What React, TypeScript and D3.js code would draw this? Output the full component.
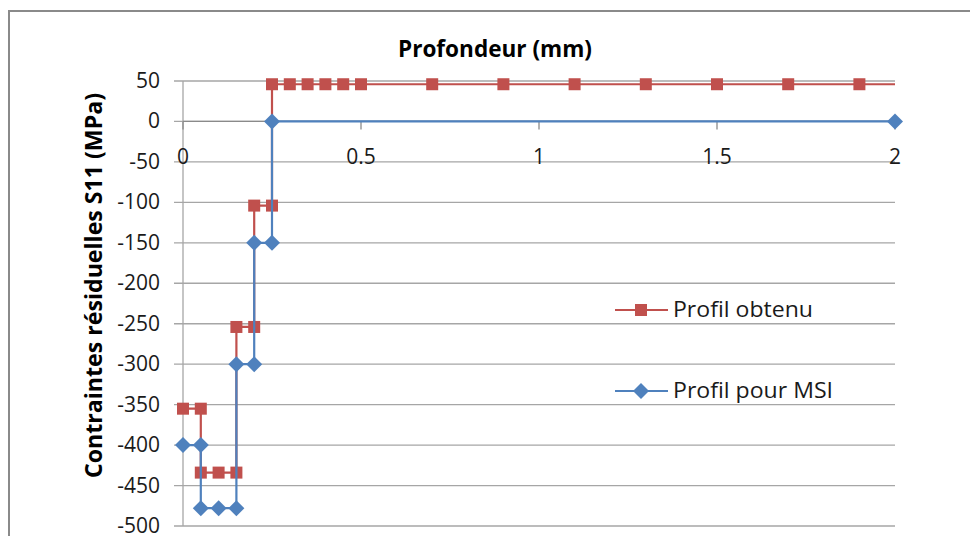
import * as d3 from "d3";

// Profil obtenu (red squares)
const redX = [0, 0.05, 0.05, 0.1, 0.15, 0.15, 0.2, 0.2, 0.25, 0.25, 0.3, 0.35, 0.4, 0.45, 0.5, 0.7, 0.9, 1.1, 1.3, 1.5, 1.7, 1.9, 2];
const redY = [-355, -355, -434, -434, -434, -254, -254, -104, -104, 46, 46, 46, 46, 46, 46, 46, 46, 46, 46, 46, 46, 46, 46];
// Profil pour MSI (blue diamonds)
const blueX = [0, 0.05, 0.05, 0.1, 0.15, 0.15, 0.2, 0.2, 0.25, 0.25, 2];
const blueY = [-400, -400, -478, -478, -478, -300, -300, -150, -150, 0, 0];

const yTicks = [50, 0, -50, -100, -150, -200, -250, -300, -350, -400, -450, -500];
const xTicks = [0, 0.5, 1, 1.5, 2];

const RED = "#C0504D";
const BLUE = "#4F81BD";
const FONT = "'Open Sans', Lato, sans-serif";

export default function App() {
  const x = d3.scaleLinear().domain([0, 2]).range([183, 895]);
  const y = d3.scaleLinear().domain([-500, 50]).range([526, 81]);

  const red = redX.map((d, i) => [d, redY[i]] as [number, number]);
  const blue = blueX.map((d, i) => [d, blueY[i]] as [number, number]);
  const line = d3
    .line<[number, number]>()
    .x((d) => x(d[0]))
    .y((d) => y(d[1]));

  return (
    <svg
      width={970}
      height={536}
      style={{ position: "absolute", left: 0, top: 0 }}
      fontFamily={FONT}
    >
      <rect x={0} y={0} width={970} height={536} fill="white" />
      <rect x={9} y={11} width={1000} height={600} fill="none" stroke="#8a8a8a" strokeWidth={2} />

      {/* gridlines + y ticks */}
      {yTicks.map((t) => (
        <line key={t} x1={174} x2={x(2)} y1={y(t)} y2={y(t)} stroke="#a6a6a6" strokeWidth={1.3} />
      ))}
      {yTicks.map((t) => (
        <text key={"l" + t} x={160} y={y(t) + 7} fontSize={21} textAnchor="end" fill="#1a1a1a">
          {t}
        </text>
      ))}
      <line x1={x(0)} x2={x(0)} y1={y(50)} y2={y(-500)} stroke="#a6a6a6" strokeWidth={1.3} />

      {/* x axis at y = 0 */}
      <line x1={x(0)} x2={x(2)} y1={y(0)} y2={y(0)} stroke="#8a8a8a" strokeWidth={1.3} />
      {xTicks.map((t) => (
        <g key={t}>
          <line x1={x(t)} x2={x(t)} y1={y(0)} y2={y(0) + 8} stroke="#8a8a8a" strokeWidth={1.3} />
          <text x={x(t)} y={164} fontSize={21} textAnchor="middle" fill="#1a1a1a">
            {t}
          </text>
        </g>
      ))}

      <text
        x={398}
        y={57}
        fontSize={23}
        fontWeight="bold"
        fill="#000"
        textLength={194}
        lengthAdjust="spacingAndGlyphs"
      >
        Profondeur (mm)
      </text>
      <text
        transform="translate(102,478) rotate(-90)"
        fontSize={24}
        fontWeight="bold"
        fill="#000"
        textLength={385}
        lengthAdjust="spacingAndGlyphs"
      >
        Contraintes résiduelles S11 (MPa)
      </text>

      {/* red series */}
      <path d={line(red) ?? ""} fill="none" stroke={RED} strokeWidth={2.2} />
      {red.map((d, i) =>
        i === red.length - 1 ? null : (
          <rect key={i} x={x(d[0]) - 6} y={y(d[1]) - 6} width={12} height={12} fill={RED} />
        )
      )}

      {/* blue series */}
      <path d={line(blue) ?? ""} fill="none" stroke={BLUE} strokeWidth={2.2} />
      {blue.map((d, i) => (
        <path
          key={i}
          d={`M${x(d[0])},${y(d[1]) - 8}l8,8l-8,8l-8,-8z`}
          fill={BLUE}
        />
      ))}

      {/* legend */}
      <line x1={615} x2={668} y1={310} y2={310} stroke={RED} strokeWidth={2.2} />
      <rect x={635} y={304} width={12} height={12} fill={RED} />
      <text x={673} y={317} fontSize={21} fill="#1a1a1a" textLength={140} lengthAdjust="spacingAndGlyphs">
        Profil obtenu
      </text>
      <line x1={615} x2={668} y1={391} y2={391} stroke={BLUE} strokeWidth={2.2} />
      <path d="M641,383l8,8l-8,8l-8,-8z" fill={BLUE} />
      <text x={673} y={398} fontSize={21} fill="#1a1a1a" textLength={160} lengthAdjust="spacingAndGlyphs">
        Profil pour MSI
      </text>
    </svg>
  );
}
